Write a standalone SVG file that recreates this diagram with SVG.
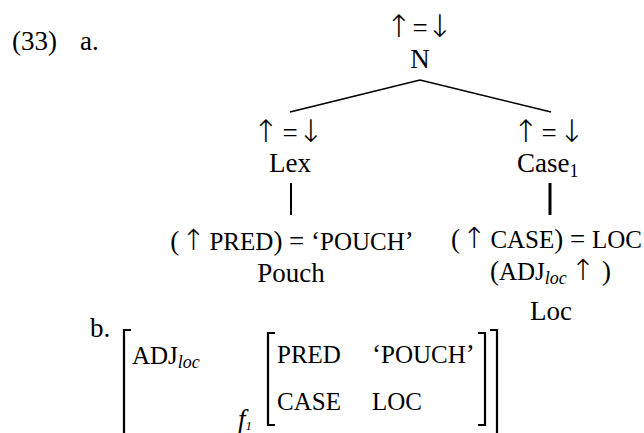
<svg xmlns="http://www.w3.org/2000/svg" width="644" height="433" viewBox="0 0 644 433">
<style>
text{font-family:"Liberation Serif","DejaVu Serif",serif;fill:#000;font-size:27px}
.ar{font-family:"DejaVu Sans",sans-serif;font-weight:200;font-size:31px}
.ai{font-family:"DejaVu Sans",sans-serif;font-weight:200;font-size:29px}
.c{font-size:25px}
.sp{font-size:16px}
.sub{font-size:18px}
.it{font-style:italic}
.m{text-anchor:middle}
.ln{stroke:#000;fill:none;stroke-width:1.6}
.br{stroke:#000;fill:none;stroke-width:2.2}
</style>
<rect width="644" height="433" fill="#fff"/>
<g id="label">
<text x="12" y="50">(33)</text>
<text x="80" y="50">a.</text>
</g>
<g id="node-N">
<text y="37" class="m"><tspan class="ar" x="399">↑</tspan><tspan x="420">=</tspan><tspan class="ar" x="440">↓</tspan></text>
<text x="420" y="68" class="m">N</text>
</g>
<g id="node-Lex">
<text y="142" class="m"><tspan class="ar" x="266">↑</tspan><tspan x="290">=</tspan><tspan class="ar" x="311">↓</tspan></text>
<text x="290" y="172" class="m">Lex</text>
</g>
<g id="node-Case">
<text y="142" class="m"><tspan class="ar" x="526">↑</tspan><tspan x="549">=</tspan><tspan class="ar" x="572">↓</tspan></text>
<text x="517" y="172">Case<tspan class="sub" dy="5">1</tspan></text>
</g>
<g id="node-Pouch">
<text x="292" y="250" class="m">(<tspan class="ai" dx="2">↑</tspan><tspan class="sp"> </tspan><tspan class="c">PRED</tspan>) = ‘<tspan class="c">POUCH</tspan>’</text>
<text x="291" y="282" class="m">Pouch</text>
</g>
<g id="node-Loc">
<text x="642" y="248" text-anchor="end">(<tspan class="ai" dx="2">↑</tspan><tspan class="sp"> </tspan><tspan class="c">CASE</tspan>) = <tspan class="c">LOC</tspan></text>
<text x="490" y="280">(<tspan class="c">ADJ</tspan><tspan class="sub it" dy="4">loc</tspan><tspan class="ai" dy="-4" dx="4">↑</tspan> )</text>
<text x="551" y="320" class="m">Loc</text>
</g>
<g id="connectors">
<line class="ln" x1="420" y1="80" x2="290" y2="112"/>
<line class="ln" x1="420" y1="80" x2="551" y2="112"/>
<line x1="291" y1="183" x2="291" y2="215" stroke="#000" stroke-width="2"/>
<line x1="550" y1="183" x2="550" y2="215" stroke="#000" stroke-width="3"/>
</g>
<g id="fstructure">
<text x="90" y="337">b.</text>
<path class="br" d="M131,330 H124 V433"/>
<path class="br" d="M490,330 H497 V433"/>
<text x="132" y="364"><tspan class="c">ADJ</tspan><tspan class="sub it" dy="4">loc</tspan></text>
<path class="br" d="M275,333 H268 V425 H275"/>
<path class="br" d="M478,333 H485 V425 H478"/>
<text x="277" y="363" class="c">PRED</text>
<text x="372" y="363">‘<tspan class="c">POUCH</tspan>’</text>
<text x="277" y="410" class="c">CASE</text>
<text x="372" y="410" class="c">LOC</text>
<text x="238" y="428" class="it" font-size="22">f<tspan font-size="13" dy="2">1</tspan></text>
</g>
</svg>
